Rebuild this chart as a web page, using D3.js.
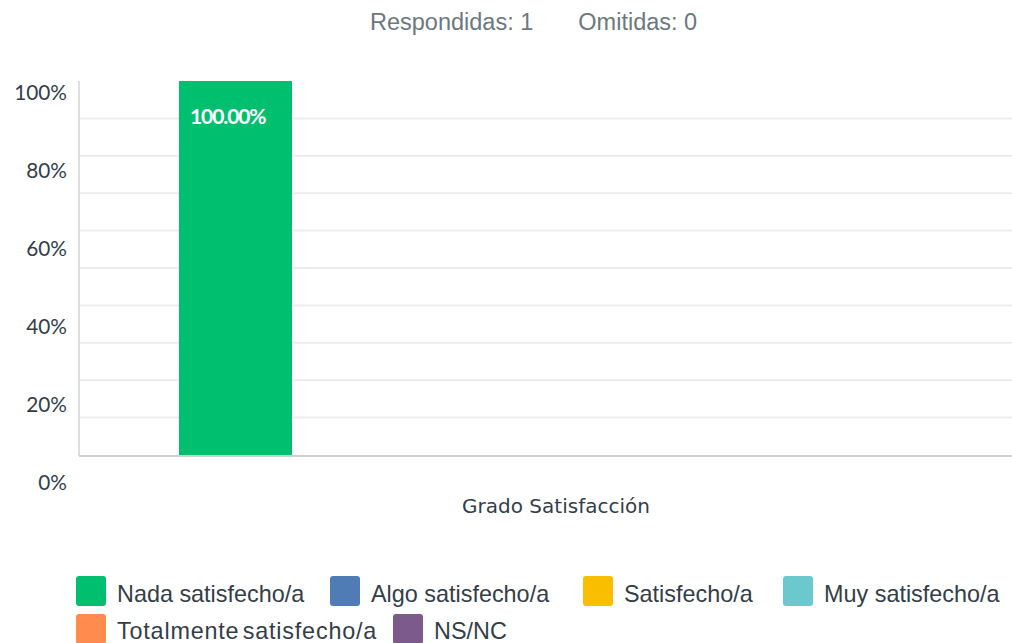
<!DOCTYPE html>
<html><head><meta charset="utf-8">
<script src="https://cdn.jsdelivr.net/npm/d3@7"></script>
<style>html,body{margin:0;padding:0;background:#fff;}</style>
</head><body>
<svg id="chart" width="1012" height="643"></svg>
<script>
const category = "Grado Satisfacción";
const seriesNames = ["Nada satisfecho/a","Algo satisfecho/a","Satisfecho/a","Muy satisfecho/a","Totalmente satisfecho/a","NS/NC"];
const seriesValues = [100, 0, 0, 0, 0, 0];
const seriesColors = ["#00bf6f","#507cb6","#f9be00","#6bc8cd","#ff8b4f","#7d5a8c"];
const yTickLabels = [0, 20, 40, 60, 80, 100];
const gridValues = [10, 20, 30, 40, 50, 60, 70, 80, 90];
const answered = 1, skipped = 0;

(function () {
const svg = d3.select("#chart");
const pLeft = 79, pRight = 1012, pTop = 81, pBottom = 455;

const y = d3.scaleLinear().domain([0, 100]).range([pBottom, pTop]);
const yLab = d3.scaleLinear().domain([0, 100]).range([483, 93]);
const x1 = d3.scaleBand().domain(seriesNames).range([179, 933]).paddingInner(0.1186).paddingOuter(0);

// title
const t = svg.append("text").attr("x", 370).attr("y", 30)
  .attr("font-family", "Liberation Sans, Arial, sans-serif").attr("font-size", 23.5).attr("fill", "#6b787f");
t.append("tspan").text("Respondidas: " + answered);
t.append("tspan").attr("dx", 45).text("Omitidas: " + skipped);

// gridlines
svg.append("g").selectAll("line").data(gridValues).join("line")
  .attr("x1", pLeft).attr("x2", pRight)
  .attr("y1", d => y(d)).attr("y2", d => y(d))
  .attr("stroke", "#ececec").attr("stroke-width", 2);

// y labels
svg.append("g").selectAll("text").data(yTickLabels).join("text")
  .attr("x", 67).attr("y", d => yLab(d) + 7.3)
  .attr("text-anchor", "end")
  .attr("font-family", "Lato, sans-serif").attr("font-size", 20.8).attr("fill", "#333e48")
  .text(d => d + "%");

const barData = seriesNames.map((n, i) => ({n, v: seriesValues[i], c: seriesColors[i]})).filter(d => d.v > 0);

// bars
svg.append("g").selectAll("rect").data(barData).join("rect")
  .attr("x", d => x1(d.n)).attr("width", x1.bandwidth())
  .attr("y", d => y(d.v)).attr("height", d => y(0) - y(d.v))
  .attr("fill", d => d.c);

// bar labels
svg.append("g").selectAll("text").data(barData).join("text")
  .attr("x", d => x1(d.n) + 11).attr("y", d => y(d.v) + 43)
  .attr("font-family", "Lato, sans-serif").attr("font-weight", "bold").attr("font-size", 21)
  .attr("letter-spacing", -1.1).attr("fill", "#fff")
  .text(d => d.v.toFixed(2) + "%");

// axes lines
svg.append("line").attr("x1", pLeft).attr("x2", pLeft).attr("y1", pTop).attr("y2", pBottom + 1)
  .attr("stroke", "#dedede").attr("stroke-width", 2);
svg.append("line").attr("x1", pLeft).attr("x2", pRight).attr("y1", pBottom + 1).attr("y2", pBottom + 1)
  .attr("stroke", "#cfcfcf").attr("stroke-width", 2);

// category label
svg.append("text").attr("x", (x1.range()[0] + x1.range()[1]) / 2).attr("y", 513)
  .attr("text-anchor", "middle")
  .attr("font-family", "DejaVu Sans, sans-serif").attr("font-size", 20).attr("fill", "#333e48")
  .text(category);

// legend
const legendPos = [[76, 576], [330, 576], [583, 576], [783, 576], [76, 614], [393, 614]];
const lg = svg.append("g").selectAll("g").data(seriesNames).join("g")
  .attr("transform", (d, i) => `translate(${legendPos[i][0]},${legendPos[i][1]})`);
lg.append("rect").attr("width", 30).attr("height", 30).attr("rx", 3)
  .attr("fill", (d, i) => seriesColors[i]);
lg.append("text").attr("x", 41).attr("y", (d, i) => i < 4 ? 26 : 25)
  .attr("font-family", "Liberation Sans, Arial, sans-serif").attr("font-size", 23.4).attr("fill", "#333e48")
  .attr("word-spacing", d => d.startsWith("Totalmente") ? -4 : 0)
  .attr("letter-spacing", d => d.startsWith("Totalmente") ? 0.8 : 0)
  .text(d => d);
})();
</script>
</body></html>
